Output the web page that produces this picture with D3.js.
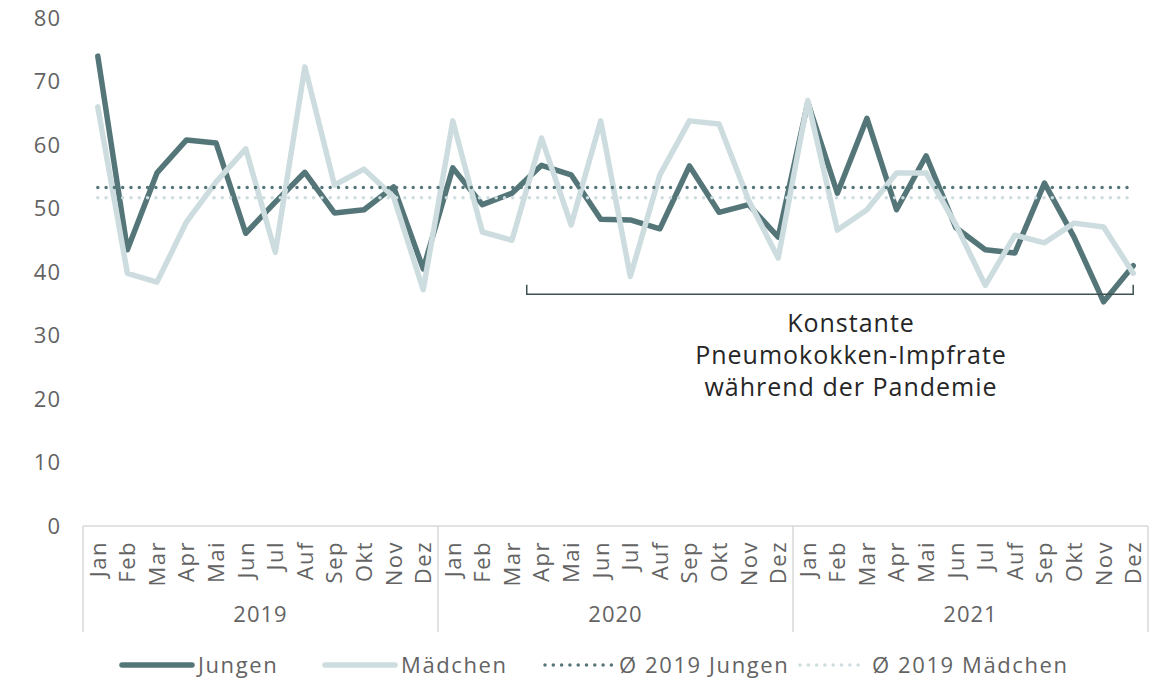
<!doctype html>
<html>
<head>
<meta charset="utf-8"/>
<style>
    html, body { margin: 0; padding: 0; background: #fff; }
    svg { display: block; }
    text { font-family: "Open Sans", "DejaVu Sans", sans-serif; }
</style>
<script src="https://d3js.org/d3.v7.min.js"></script>
</head>
<body>
<svg width="1168" height="680"></svg>
<script>

    // --- data ---
    var years = ["2019", "2020", "2021"];
    var months = ["Jan", "Feb", "Mar", "Apr", "Mai", "Jun", "Jul", "Auf", "Sep", "Okt", "Nov", "Dez"];

    var jungen = [
        74.0, 43.5, 55.6, 60.8, 60.3, 46.1, 51.0, 55.7, 49.3, 49.8, 53.4, 40.5,
        56.4, 50.6, 52.4, 56.8, 55.3, 48.3, 48.2, 46.8, 56.7, 49.4, 50.6, 45.5,
        66.7, 52.4, 64.2, 49.8, 58.3, 47.0, 43.5, 43.0, 54.0, 45.5, 35.3, 41.0
    ];
    var maedchen = [
        66.0, 39.8, 38.4, 47.9, 54.2, 59.4, 43.1, 72.3, 53.7, 56.2, 51.8, 37.2,
        63.8, 46.3, 45.0, 61.1, 47.4, 63.8, 39.3, 55.3, 63.8, 63.3, 51.3, 42.2,
        67.0, 46.6, 49.8, 55.6, 55.6, 47.5, 37.9, 45.8, 44.6, 47.7, 47.1, 39.8
    ];
    var avg2019Jungen = 53.3;
    var avg2019Maedchen = 51.7;
    var yTicks = [0, 10, 20, 30, 40, 50, 60, 70, 80];

    var seriesNames = ["Jungen", "Mädchen", "Ø 2019 Jungen", "Ø 2019 Mädchen"];
    var noteLines = ["Konstante", "Pneumokokken-Impfrate", "während der Pandemie"];

    var dark = "#557679", light = "#cddddf", grey = "#636363";

    // --- layout ---
    var svg = d3.select("svg");
    var plotLeft = 83, plotRight = 1148, plotTop = 18, plotBottom = 526;

    var idx = d3.range(years.length * months.length);
    var x = d3.scaleBand().domain(idx).range([plotLeft, plotRight]);
    var cx = function(i) { return x(i) + x.bandwidth() / 2; };
    var y = d3.scaleLinear().domain([0, 80]).range([plotBottom, plotTop]);

    // y tick labels (no axis line)
    var yAxis = svg.append("g")
        .attr("transform", "translate(" + (plotLeft - 10) + ",0)")
        .call(d3.axisLeft(y).tickValues(yTicks).tickSize(0).tickPadding(12));
    yAxis.select(".domain").remove();
    yAxis.selectAll("text")
        .attr("fill", grey)
        .style("font-size", "22px")
        .style("letter-spacing", "1px")
        .style("font-family", "'Open Sans', sans-serif");

    // category frame
    var frame = svg.append("g").attr("stroke", "#d9d9d9").attr("stroke-width", 1.5);
    frame.append("line").attr("x1", plotLeft).attr("x2", plotRight).attr("y1", plotBottom).attr("y2", plotBottom);
    d3.range(years.length + 1).forEach(function(k) {
        var xx = k < years.length ? x(k * 12) : plotRight;
        frame.append("line").attr("x1", xx).attr("x2", xx).attr("y1", plotBottom).attr("y2", 632);
    });

    // month labels (rotated)
    svg.append("g").selectAll("text").data(idx).enter().append("text")
        .attr("transform", function(i) { return "translate(" + cx(i) + "," + (plotBottom + 15) + ") rotate(-90)"; })
        .attr("text-anchor", "end")
        .attr("dy", "0.36em")
        .attr("fill", grey)
        .style("font-size", "22px")
        .style("letter-spacing", "1.5px")
        .text(function(i) { return months[i % 12]; });

    // year labels
    svg.append("g").selectAll("text").data(years).enter().append("text")
        .attr("x", function(d, k) { return (x(k * 12) + x(k * 12 + 11) + x.bandwidth()) / 2; })
        .attr("y", 614)
        .attr("dy", "0.35em")
        .attr("text-anchor", "middle")
        .attr("fill", grey)
        .style("font-size", "22px")
        .style("letter-spacing", "1px")
        .text(function(d) { return d; });

    // series lines
    var line = d3.line().x(function(d, i) { return cx(i); }).y(function(d) { return y(d); });

    svg.append("path").datum(jungen)
        .attr("d", line).attr("fill", "none")
        .attr("stroke", dark).attr("stroke-width", 5.5)
        .attr("stroke-linejoin", "round").attr("stroke-linecap", "round");

    svg.append("path").datum(maedchen)
        .attr("d", line).attr("fill", "none")
        .attr("stroke", light).attr("stroke-width", 5.5)
        .attr("stroke-linejoin", "round").attr("stroke-linecap", "round");

    // 2019 averages as dotted lines
    [[avg2019Jungen, dark], [avg2019Maedchen, light]].forEach(function(a) {
        svg.append("line")
            .attr("x1", cx(0)).attr("x2", cx(idx.length - 1))
            .attr("y1", y(a[0])).attr("y2", y(a[0]))
            .attr("stroke", a[1]).attr("stroke-width", 3.5)
            .attr("stroke-linecap", "round")
            .attr("stroke-dasharray", "0 8.3");
    });

    // bracket: Apr 2020 .. Dez 2021
    var bx1 = x(15), bx2 = cx(35), by = y(36.5), byTop = y(38.0);
    svg.append("path")
        .attr("d", "M" + bx1 + "," + byTop + "V" + by + "H" + bx2 + "V" + byTop)
        .attr("fill", "none").attr("stroke", "#3e5254").attr("stroke-width", 1.5);

    svg.append("g").selectAll("text").data(noteLines).enter().append("text")
        .attr("x", 851)
        .attr("y", function(d, i) { return 323 + i * 32; })
        .attr("dy", "0.35em")
        .attr("text-anchor", "middle")
        .attr("fill", "#262626")
        .style("font-size", "25px")
        .style("letter-spacing", "1px")
        .text(function(d) { return d; });

    // legend
    var legend = svg.append("g");
    var legItems = [
        { name: seriesNames[0], color: dark, dotted: false, x: 122, w: 70 },
        { name: seriesNames[1], color: light, dotted: false, x: 325, w: 70 },
        { name: seriesNames[2], color: dark, dotted: true, x: 545, w: 68 },
        { name: seriesNames[3], color: light, dotted: true, x: 800, w: 66 }
    ];
    legItems.forEach(function(it) {
        legend.append("line")
            .attr("x1", it.x).attr("x2", it.x + it.w).attr("y1", 665).attr("y2", 665)
            .attr("stroke", it.color)
            .attr("stroke-width", it.dotted ? 3.5 : 5.5)
            .attr("stroke-linecap", "round")
            .attr("stroke-dasharray", it.dotted ? "0 8.3" : null);
        legend.append("text")
            .attr("x", it.x + it.w + 6).attr("y", 665).attr("dy", "0.35em")
            .attr("fill", grey)
            .style("font-size", "22px")
            .style("letter-spacing", "1.6px")
            .text(it.name);
    });

</script>
</body>
</html>
